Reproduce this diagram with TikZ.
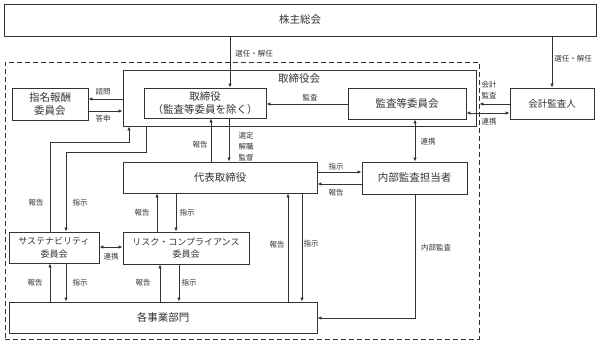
\documentclass[tikz,border=0pt]{standalone}
\usepackage{fontspec}
\setmainfont{Noto Sans CJK JP}
\usetikzlibrary{arrows.meta}
\definecolor{ink}{HTML}{333333}
\begin{document}
\begin{tikzpicture}[x=1pt,y=-1pt,
  box/.style={draw=ink, line width=0.9pt, inner sep=0pt, text=ink, font=\fontsize{10.5}{13}\selectfont, align=center},
  smallbox/.style={box, font=\fontsize{9}{12.5}\selectfont},
  lbl/.style={font=\fontsize{7.5}{11}\selectfont, inner sep=0pt, align=center, text=ink},
  arr/.style={draw=ink, line width=0.8pt, -{Latex[length=4pt,width=3.5pt]}},
  darr/.style={draw=ink, line width=0.8pt, {Latex[length=4pt,width=3.5pt]}-{Latex[length=4pt,width=3.5pt]}}]
\useasboundingbox (0,0) rectangle (600,345);

% boxes
\node[box, minimum width=592pt, minimum height=32pt] (sh) at (300,20) {株主総会};
\node[draw=ink, line width=0.8pt, dash pattern=on 5pt off 3pt, minimum width=474pt, minimum height=277pt, inner sep=0pt] (grp) at (242,200.5) {};
\node[box, minimum width=353pt, minimum height=56pt] (bod) at (299.5,98) {};
\node[box, draw=none] (bodt) at (299,79) {取締役会};
\node[box, minimum width=122pt, minimum height=30pt] (dir) at (205,103) {取締役\\（監査等委員を除く）};
\node[box, minimum width=118pt, minimum height=31pt] (ac) at (407,103.5) {監査等委員会};
\node[box, minimum width=84pt, minimum height=31pt, font=\fontsize{9.5}{12}\selectfont] (aud) at (552,103.5) {会計監査人};
\node[box, minimum width=76pt, minimum height=32pt] (nom) at (50,104) {指名報酬\\委員会};
\node[box, minimum width=194pt, minimum height=31pt] (ceo) at (220,177.5) {代表取締役};
\node[box, minimum width=105pt, minimum height=32pt] (ia) at (414.5,178) {内部監査担当者};
\node[smallbox, minimum width=90pt, minimum height=31pt] (sus) at (54,247.5) {サステナビリティ\\委員会};
\node[smallbox, minimum width=126pt, minimum height=32pt] (risk) at (186,248) {リスク・コンプライアンス\\委員会};
\node[box, minimum width=308pt, minimum height=31pt] (biz) at (163,317.5) {各事業部門};

% shareholders
\draw[arr] (230,0|-sh.south) -- (230,0|-dir.north);
\node[lbl] (l1) at (254,54) {選任・解任};
\draw[arr] (552,0|-sh.south) -- (552,0|-aud.north);
\node[lbl] (l2) at (573,59) {選任・解任};

% audit committee / auditor
\draw[arr] (ac.west|-0,104) -- (dir.east|-0,104);
\node[lbl] (l3) at (310,98) {監査};
\draw[arr] (aud.west|-0,104) -- (grp.east|-0,104);
\node[lbl] (l4) at (489,90) {会計\\監査};
\draw[darr] (ac.east|-0,113) -- (aud.west|-0,113);
\node[lbl] (l5) at (489,122) {連携};
\draw[darr] (415,0|-ac.south) -- (415,0|-ia.north);
\node[lbl] (l6) at (428,142) {連携};

% directors / representative director
\draw[arr] (211,0|-ceo.north) -- (211,0|-dir.south);
\node[lbl] (l7) at (200,145) {報告};
\draw[arr] (229,0|-dir.south) -- (229,0|-ceo.north);
\node[lbl] (l8) at (246,147) {選定\\解職\\監督};

% representative director / internal audit
\draw[arr] (ceo.east|-0,172) -- (ia.west|-0,172);
\node[lbl] (l9) at (336,167) {指示};
\draw[arr] (ia.west|-0,184) -- (ceo.east|-0,184);
\node[lbl] (l10) at (336,193) {報告};
\draw[arr] (415,0|-ia.south) -- (415,318) -- (biz.east|-0,318);
\node[lbl] (l11) at (436,248) {内部監査};

% representative director / business
\draw[arr] (302,0|-ceo.south) -- (302,0|-biz.north);
\node[lbl] (l12) at (311,244) {指示};
\draw[arr] (288,0|-biz.north) -- (288,0|-ceo.south);
\node[lbl] (l13) at (277,245) {報告};

% representative director / risk
\draw[arr] (157,0|-risk.north) -- (157,0|-ceo.south);
\node[lbl] (l14) at (142,213) {報告};
\draw[arr] (176,0|-ceo.south) -- (176,0|-risk.north);
\node[lbl] (l15) at (187,213) {指示};

% risk / business
\draw[arr] (160,0|-biz.north) -- (160,0|-risk.south);
\node[lbl] (l16) at (143,283) {報告};
\draw[arr] (179,0|-risk.south) -- (179,0|-biz.north);
\node[lbl] (l17) at (189,283) {指示};

% sustainability / business
\draw[arr] (50,0|-biz.north) -- (50,0|-sus.south);
\node[lbl] (l18) at (35,283) {報告};
\draw[arr] (66,0|-sus.south) -- (66,0|-biz.north);
\node[lbl] (l19) at (80,283) {指示};

% sustainability / risk
\draw[darr] (sus.east|-0,247) -- (risk.west|-0,247);
\node[lbl] (l20) at (111,257) {連携};

% sustainability / board
\draw[arr] (50,0|-sus.north) -- (50,142) -- (129,142) -- (129,0|-bod.south);
\draw[arr] (146,0|-bod.south) -- (146,152) -- (66,152) -- (66,0|-sus.north);
\node[lbl] (l21) at (36,203) {報告};
\node[lbl] (l22) at (80,203) {指示};

% nomination committee
\draw[arr] (bod.west|-0,99) -- (nom.east|-0,99);
\node[lbl] (l23) at (103,92) {諮問};
\draw[arr] (nom.east|-0,111) -- (bod.west|-0,111);
\node[lbl] (l24) at (103,119) {答申};
\end{tikzpicture}
\end{document}
